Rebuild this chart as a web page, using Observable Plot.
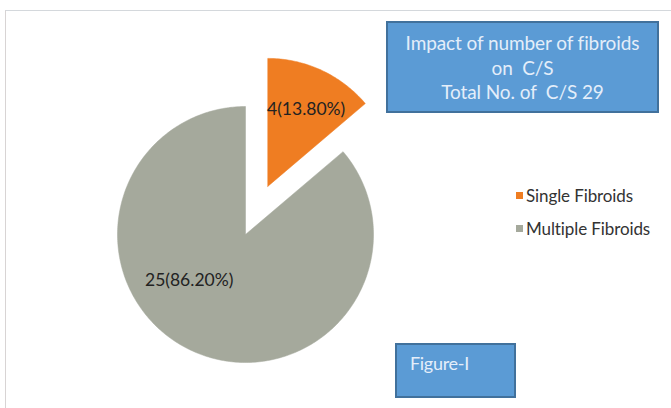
<!DOCTYPE html>
<html>
<head>
<meta charset="utf-8">
<script src="https://cdn.jsdelivr.net/npm/d3@7"></script>
<script src="https://cdn.jsdelivr.net/npm/@observablehq/plot@0.6"></script>
<style>
  html, body { margin: 0; padding: 0; background: #fff; }
  #wrap { position: relative; width: 671px; height: 408px; overflow: hidden; font-family: Lato, "Open Sans", sans-serif; }
  #frame { position: absolute; left: 5px; top: 10px; width: 700px; height: 420px; border-left: 1.5px solid #d8d4d4; border-top: 1.5px solid #d4d8dc; box-sizing: border-box; }
  #plot { position: absolute; left: 0; top: 0; }
  .box { position: absolute; background: #5b9bd5; border: 2px solid #41719c; box-sizing: border-box; color: #e4eefa; }
  #title { left: 386px; top: 21px; width: 273px; height: 92px; text-align: center; font-size: 19px; line-height: 24.5px; padding-top: 8px; letter-spacing: -0.1px; }
  #fig { left: 395px; top: 343px; width: 121px; height: 55px; font-size: 18px; padding: 7px 0 0 13px; letter-spacing: -0.3px; }
  .leg { position: absolute; left: 516px; font-size: 17px; color: #333; display: flex; align-items: center; letter-spacing: -0.1px; }
  .sw { width: 7px; height: 7px; margin-right: 3px; display: inline-block; }
</style>
</head>
<body>
<div id="wrap">
  <div id="frame"></div>
  <div id="plot"></div>
  <div class="box" id="title"></div>
  <div class="box" id="fig"></div>
  <div id="legend"></div>
</div>
<script>
const categories = ["Single Fibroids", "Multiple Fibroids"];
const counts = [4, 25];
const percentLabels = ["13.80%", "86.20%"];
const colors = ["#ef7d22", "#a5a99c"];
const titleLines = ["Impact of number of fibroids", "on  C/S", "Total No. of  C/S 29"];
const figureLabel = "Figure-I";

// layout
const W = 671, H = 408;
const cx = 245, cy = 234, R = 128, explode = 53;

const arcs = d3.pie().sort(null)(counts);
const pts = [];
const labels = [];
const labelOffsets = [[0.3, -0.6], [-0.44, 0.36]]; // label position relative to slice center, in radius units
arcs.forEach((a, i) => {
  const mid = (a.startAngle + a.endAngle) / 2;
  const off = i === 0 ? explode : 0;
  const ox = cx + off * Math.sin(mid), oy = cy - off * Math.cos(mid);
  pts.push({k: i, x: ox, y: oy});
  const n = Math.max(4, Math.ceil((a.endAngle - a.startAngle) * 60));
  for (let j = 0; j <= n; j++) {
    const t = a.startAngle + (a.endAngle - a.startAngle) * j / n;
    pts.push({k: i, x: ox + R * Math.sin(t), y: oy - R * Math.cos(t)});
  }
  pts.push({k: i, x: ox, y: oy});
  labels.push({k: i, x: ox + labelOffsets[i][0] * R, y: oy + labelOffsets[i][1] * R, text: `${counts[i]}(${percentLabels[i]})`});
});

const chart = Plot.plot({
  width: W, height: H,
  margin: 0,
  x: {domain: [0, W], range: [0, W], axis: null},
  y: {domain: [0, H], range: [0, H], axis: null},
  style: {background: "transparent", fontFamily: "Lato, 'Open Sans', sans-serif"},
  marks: [
    Plot.line(pts, {x: "x", y: "y", z: "k", fill: d => colors[d.k], stroke: d => colors[d.k], strokeWidth: 0.5, curve: "linear"}),
    Plot.text(labels, {x: "x", y: "y", text: "text", fontSize: 17.5, fill: "#222", letterSpacing: "-0.3px"})
  ]
});
document.getElementById("plot").appendChild(chart);

document.getElementById("title").innerHTML = titleLines.map(t => `<div>${t.replace(/  /g, "&nbsp; ")}</div>`).join("");
document.getElementById("fig").textContent = figureLabel;

const legendTops = [185, 218];
const leg = document.getElementById("legend");
categories.forEach((c, i) => {
  const d = document.createElement("div");
  d.className = "leg";
  d.style.top = legendTops[i] + "px";
  d.innerHTML = `<span class="sw" style="background:${colors[i]}"></span>${c}`;
  leg.appendChild(d);
});
</script>
</body>
</html>
